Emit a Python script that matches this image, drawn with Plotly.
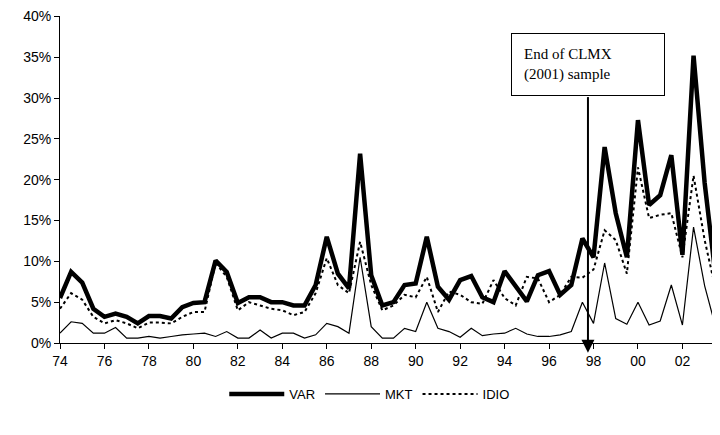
import plotly.graph_objects as go

years = [1974 + i / 2 for i in range(60)]
var = [5.5, 8.7, 7.4, 4.2, 3.2, 3.6, 3.2, 2.4, 3.3, 3.3, 3.0, 4.4, 4.9, 5.0, 10.1, 8.7, 4.9, 5.6, 5.6, 5.0,
       5.0, 4.6, 4.6, 7.1, 13.0, 8.5, 6.7, 23.2, 8.3, 4.6, 5.0, 7.1, 7.3, 13.0, 6.9, 5.3, 7.7, 8.2, 5.6, 5.0,
       8.8, 6.9, 5.1, 8.3, 8.8, 5.9, 7.1, 12.8, 10.5, 24.0, 15.9, 10.5, 27.3, 16.9, 18.1, 23.0, 10.8, 35.2, 19.6, 8.0]
mkt = [1.2, 2.6, 2.4, 1.2, 1.2, 1.9, 0.6, 0.6, 0.8, 0.6, 0.8, 1.0, 1.1, 1.2, 0.8, 1.4, 0.6, 0.6, 1.6, 0.6,
       1.2, 1.2, 0.6, 1.0, 2.4, 2.0, 1.2, 10.5, 2.0, 0.6, 0.6, 1.8, 1.4, 5.0, 1.8, 1.4, 0.7, 1.8, 0.9, 1.1,
       1.2, 1.8, 1.1, 0.8, 0.8, 1.0, 1.4, 5.0, 2.4, 9.8, 3.0, 2.3, 5.0, 2.2, 2.7, 7.1, 2.2, 14.2, 7.0, 1.9]
idio = [4.2, 6.1, 5.3, 3.2, 2.4, 2.8, 2.4, 1.8, 2.5, 2.5, 2.4, 3.2, 3.8, 3.8, 9.8, 8.1, 4.0, 5.0, 4.6, 4.2,
        4.0, 3.4, 3.8, 6.1, 10.4, 7.1, 6.1, 12.4, 7.1, 4.0, 4.6, 5.9, 5.6, 8.1, 3.8, 6.3, 5.9, 5.0, 4.8, 7.7,
        5.5, 4.6, 8.1, 7.9, 5.0, 5.9, 8.1, 8.0, 9.0, 13.8, 12.6, 8.5, 21.5, 15.3, 15.7, 15.9, 10.5, 20.5, 12.6, 6.5]
tick_vals = list(range(1974, 2003, 2))
tick_text = ["%02d" % (y % 100) for y in tick_vals]
y_ticks = [i * 5 / 100 for i in range(9)]
y_text = ["%d%%" % (i * 5) for i in range(9)]
sample_end = 1997.75

fig = go.Figure()
fig.add_trace(go.Scatter(x=years, y=[v / 100 for v in var], name="VAR", mode="lines",
                         line=dict(color="black", width=4.5)))
fig.add_trace(go.Scatter(x=years, y=[v / 100 for v in mkt], name="MKT", mode="lines",
                         line=dict(color="black", width=1.2)))
fig.add_trace(go.Scatter(x=years, y=[v / 100 for v in idio], name="IDIO", mode="lines",
                         line=dict(color="black", width=2, dash="dot")))

fig.add_shape(type="line", xref="x", yref="paper", x0=sample_end, x1=sample_end, y0=0.752, y1=0.0,
              line=dict(color="black", width=2))
fig.add_annotation(x=sample_end, y=-0.03, xref="x", yref="paper", ax=0, ay=-12,
                   showarrow=True, arrowhead=2, arrowsize=1.3,
                   arrowwidth=2, arrowcolor="black", text="")
fig.add_annotation(x=sample_end, y=0.948, xref="x", yref="paper", yanchor="top", showarrow=False,
                   text="End of CLMX<br>(2001) sample", align="left",
                   font=dict(family="Liberation Serif", size=15, color="black"),
                   bordercolor="black", borderwidth=1, bgcolor="white", borderpad=12, width=128)

fig.update_layout(
    width=712, height=427, margin=dict(l=52, r=2, t=8, b=92),
    paper_bgcolor="white", plot_bgcolor="white",
    font=dict(family="Liberation Sans", size=14, color="black"),
    showlegend=True,
    legend=dict(orientation="h", x=0.47, xanchor="center", y=-0.11, yanchor="top",
                font=dict(size=13), itemwidth=55),
)
fig.update_xaxes(range=[1974, 2003.6], tickvals=tick_vals, ticktext=tick_text, showline=True,
                 linecolor="black", ticks="outside", ticklen=5, tickcolor="black", showgrid=False,
                 zeroline=False, automargin=False)
fig.update_yaxes(range=[0, 0.4005], tickvals=y_ticks, ticktext=y_text, showline=True, linecolor="black",
                 ticks="outside", ticklen=5, tickcolor="black", showgrid=False, zeroline=False,
                 automargin=False)
fig.write_html("out.html")
